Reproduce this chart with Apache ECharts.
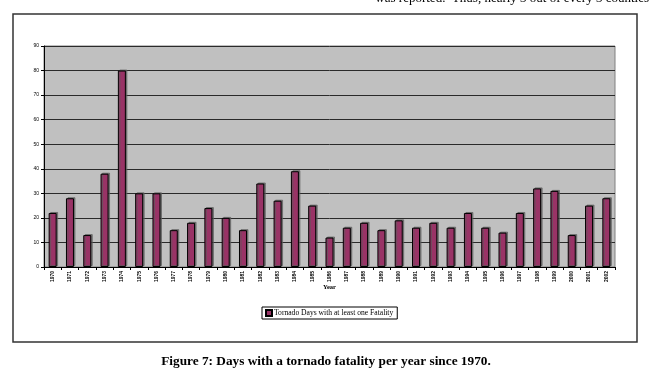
<!DOCTYPE html>
<html><head><meta charset="utf-8">
<script src="https://cdn.jsdelivr.net/npm/echarts@6/dist/echarts.min.js"></script>
<style>html,body{margin:0;padding:0;background:#fff}#c{width:652px;height:391px}</style>
</head><body><div id="c"></div>
<script>
const years = ['1970','1971','1972','1973','1974','1975','1976','1977','1978','1979','1980','1981','1982','1983','1984','1985','1986','1987','1988','1989','1990','1991','1992','1993','1994','1995','1996','1997','1998','1999','2000','2001','2002'];
const fatalityDays = [22,28,13,38,80,30,30,15,18,24,20,15,34,27,39,25,12,16,18,15,19,16,18,16,22,16,14,22,32,31,13,25,28];
const seriesName = 'Tornado Days with at least one Fatality';
const yTicks = {min:0, max:90, interval:10};
const captionText = 'Figure 7: Days with a tornado fatality per year since 1970.';
const topText = 'was reported.  Thus, nearly 3 out of every 3 counties';

const chart = echarts.init(document.getElementById('c'), null, {renderer:'canvas'});
chart.setOption({
  animation:false,
  backgroundColor:'#fff',
  grid:{left:44, top:46, right:37, bottom:124, show:true, backgroundColor:'#c0c0c0', borderColor:'#808080', borderWidth:1},
  xAxis:{
    type:'category', data:years,
    name:'Year', nameLocation:'middle', nameGap:17, nameMoveOverlap:false,
    nameTextStyle:{fontFamily:'Liberation Serif', fontSize:6.5, fontWeight:'bold', color:'#000'},
    axisLine:{show:true, lineStyle:{color:'#000', width:1}},
    axisTick:{show:true, alignWithLabel:false, length:3, lineStyle:{color:'#000'}},
    axisLabel:{rotate:90, fontSize:5, fontWeight:'bold', fontFamily:'Liberation Sans', color:'#000', margin:4, interval:0}
  },
  yAxis:{
    type:'value', min:yTicks.min, max:yTicks.max, interval:yTicks.interval,
    axisLine:{show:true, lineStyle:{color:'#000', width:1}},
    axisTick:{show:true, length:3, lineStyle:{color:'#000'}},
    axisLabel:{fontSize:5, fontFamily:'Liberation Sans', color:'#000', margin:5},
    splitLine:{show:true, lineStyle:{color:'#2a2a2a', width:1}}
  },
  legend:{
    left:262, top:307, orient:'horizontal',
    borderColor:'#000', borderWidth:1, padding:[2,4,2,3],
    itemWidth:6, itemHeight:6, itemGap:2,
    icon:'rect',
    textStyle:{fontFamily:'Liberation Serif', fontSize:7.6, color:'#000', padding:[0,0,0,-3]},
    data:[seriesName]
  },
  series:[{
    type:'bar', name:seriesName, data:fatalityDays, barWidth:8,
    itemStyle:{color:'#993366', borderColor:'#000', borderWidth:1, shadowColor:'rgba(90,90,90,0.7)', shadowOffsetX:1.5, shadowOffsetY:-1, shadowBlur:0}
  }],
  graphic:[
    {type:'rect', shape:{x:13, y:14, width:624, height:328}, style:{fill:'none', stroke:'#333', lineWidth:1.5}, z:-10},
    {type:'text', left:'center', top:355, style:{text:captionText, font:'bold 13.3px "Liberation Serif"', fill:'#000'}},
    {type:'text', right:3, top:-8, style:{text:topText, font:'13px "Liberation Serif"', fill:'#000'}}
  ]
});
</script></body></html>
